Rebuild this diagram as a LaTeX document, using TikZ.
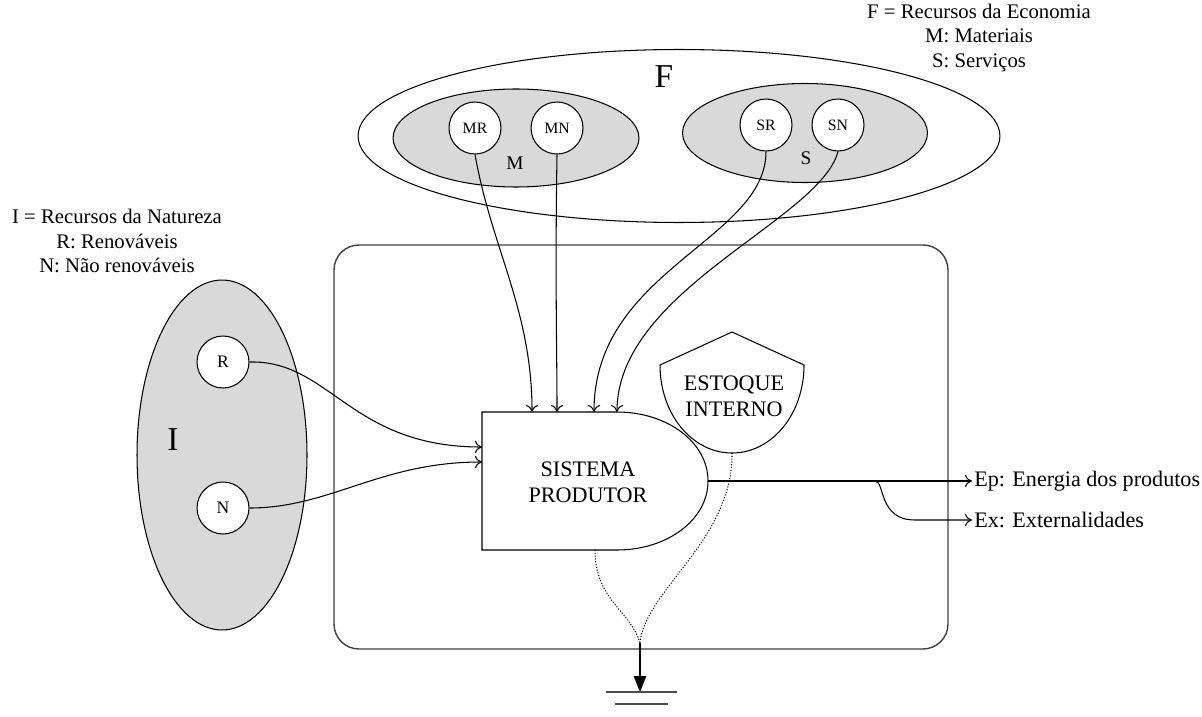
\documentclass[tikz,border=0pt]{standalone}
\usepackage{fontspec}
\setmainfont{Liberation Serif}
\usetikzlibrary{shapes.geometric,arrows.meta}

\definecolor{cinza}{HTML}{D9D9D9}
\tikzset{
  recurso/.style={circle,draw,fill=white,minimum size=1.04cm,inner sep=0pt,font=\fontsize{9}{10}\selectfont},
  grupo/.style={ellipse,draw,fill=cinza,inner sep=0pt},
  fluxo/.style={-{To[length=4pt,width=7pt]}},
  legenda/.style={align=center,font=\fontsize{11.8}{14}\selectfont},
  rotulo/.style={align=center,font=\fontsize{12.6}{15}\selectfont}
}

\begin{document}
\begin{tikzpicture}[x=0.02cm,y=-0.02cm,line width=0.6pt]
\useasboundingbox (0,0) rectangle (1202,716);

% Sistema (caixa externa)
\draw[rounded corners=0.5cm,draw=black!75,line width=0.8pt] (334,245) rectangle (948,649);

% Recursos da economia
\node[ellipse,draw,minimum width=12.84cm,minimum height=3.46cm] (F) at (679,136) {};
\node[font=\fontsize{19}{22}\selectfont] (Flab) at (664,77) {F};
\node[grupo,minimum width=4.92cm,minimum height=1.96cm] (M) at (516,138) {};
\node[grupo,minimum width=4.9cm,minimum height=1.98cm] (S) at (805,133) {};
\node[font=\fontsize{11}{13}\selectfont] (Mlab) at (515,163) {M};
\node[font=\fontsize{11}{13}\selectfont] (Slab) at (806,158) {S};
\node[recurso] (MR) at (475,128) {MR};
\node[recurso] (MN) at (557,128) {MN};
\node[recurso] (SR) at (766,125) {SR};
\node[recurso] (SN) at (838,125) {SN};

% Recursos da natureza
\node[grupo,minimum width=3.4cm,minimum height=7cm] (I) at (222,455) {};
\node[font=\fontsize{19}{22}\selectfont] (Ilab) at (173,440) {I};
\node[recurso,font=\fontsize{10}{12}\selectfont] (R) at (223,362) {R};
\node[recurso,font=\fontsize{10}{12}\selectfont] (N) at (223,508) {N};

% Legendas
\node[legenda] (legI) at (117,241) {I = Recursos da Natureza\\R: Renováveis\\N: Não renováveis};
\node[legenda] (legF) at (979,38) {F = Recursos da Economia\\M: Materiais\\S: Serviços};

% Sistema produtor
\draw (617,412) -- (482,412) -- (482,550) -- (617,550)
  .. controls (667,550) and (708,520) .. (708,481)
  .. controls (708,442) and (667,412) .. (617,412);
\node[rotulo] (SP) at (588,482) {SISTEMA\\PRODUTOR};
\coordinate (sp1) at (532,412);
\coordinate (sp2) at (557,412);
\coordinate (sp3) at (594,412);
\coordinate (sp4) at (617,412);
\coordinate (spR) at (482,447);
\coordinate (spN) at (482,462);
\coordinate (spE) at (708,481);
\coordinate (spB) at (595,550);

% Estoque interno
\draw (732,332) -- (804,365)
  .. controls (804,414) and (772,453) .. (732,453)
  .. controls (692,453) and (660,414) .. (660,365) -- cycle;
\node[rotulo] (EI) at (734,396) {ESTOQUE\\INTERNO};
\coordinate (eiB) at (732,453);

% Entradas
\draw[fluxo] (MR.south) .. controls (492,250) and (532,310) .. (sp1);
\draw[fluxo] (MN.south) .. controls (555,280) and (557,350) .. (sp2);
\draw[fluxo] (SR.south) .. controls (766,240) and (594,270) .. (sp3);
\draw[fluxo] (SN.south) .. controls (820,220) and (617,290) .. (sp4);
\draw[fluxo] (R.east) .. controls (330,360) and (350,447) .. (spR);
\draw[fluxo] (N.east) .. controls (330,508) and (380,462) .. (spN);

% Saidas
\coordinate (ep) at (972,481);
\coordinate (ex) at (972,520);
\coordinate (bif) at (875,481);
\draw[fluxo] (spE) -- (ep);
\draw[fluxo] (bif) .. controls (885,481) and (878,520) .. (915,520) -- (ex);
\node[anchor=west,rotulo,inner sep=1pt] (Ep) at (ep) {Ep: Energia dos produtos};
\node[anchor=west,rotulo,inner sep=1pt] (Ex) at (ex) {Ex: Externalidades};

% Dissipacao
\coordinate (dis) at (640,643);
\coordinate (terra) at (640,692);
\draw[densely dotted] (spB) .. controls (595,600) and (630,610) .. (dis);
\draw[densely dotted] (eiB) .. controls (733,540) and (645,590) .. (dis);
\draw[-{Triangle[length=9pt,width=7pt]}] (dis) -- (terra);
\draw[black!70,line width=0.8pt] (606,692) -- (677,692);
\draw[black!70,line width=0.8pt] (615,704) -- (668,704);
\end{tikzpicture}
\end{document}
